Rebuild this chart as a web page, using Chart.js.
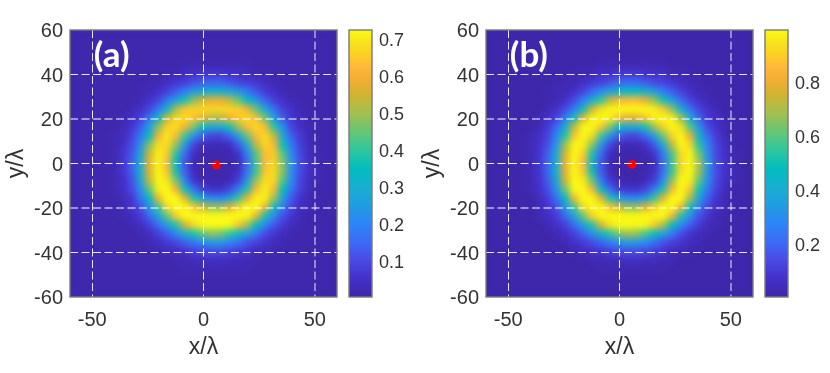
<!DOCTYPE html>
<html>
<head>
<meta charset="utf-8">
<script src="https://cdn.jsdelivr.net/npm/chart.js@4"></script>
<style>
html, body { margin: 0; padding: 0; background: #fff; }
canvas { position: absolute; top: 0; }
</style>
</head>
<body>
<canvas id="panelA" width="345" height="373" style="left:0"></canvas>
<canvas id="barA" width="71" height="373" style="left:345px"></canvas>
<canvas id="panelB" width="345" height="373" style="left:416px"></canvas>
<canvas id="barB" width="71" height="373" style="left:761px"></canvas>
<script>
const xTicks = [-50, 0, 50];
const yTicks = [-60, -40, -20, 0, 20, 40, 60];
const gridX = [-60,-56,-52,-48,-44,-40,-36,-32,-28,-24,-20,-16,-12,-8,-4,0,4,8,12,16,20,24,28,32,36,40,44,48,52,56,60];
const gridY = [60,56,52,48,44,40,36,32,28,24,20,16,12,8,4,0,-4,-8,-12,-16,-20,-24,-28,-32,-36,-40,-44,-48,-52,-56,-60];

// intensity, in hundredths, rows follow gridY
const heatA = [
[1,1,1,1,1,1,1,1,1,1,1,1,1,1,1,1,1,1,1,1,1,1,1,1,1,1,1,1,1,1,1],
[1,1,1,1,1,1,1,1,1,1,1,1,1,1,1,1,1,1,1,1,1,1,1,1,1,1,1,1,1,1,1],
[1,1,1,1,1,1,1,1,1,1,1,1,1,1,1,1,1,1,1,1,1,1,1,1,1,1,1,1,1,1,1],
[1,1,1,1,1,1,1,1,1,1,1,1,1,1,1,1,1,1,1,1,1,1,1,1,1,1,1,1,1,1,1],
[1,1,1,1,1,1,1,1,1,1,1,1,1,2,2,2,2,2,2,2,2,1,1,1,1,1,1,1,1,1,1],
[1,1,1,1,1,1,1,1,1,1,1,2,2,3,5,6,6,6,5,5,3,2,2,1,1,1,1,1,1,1,1],
[1,1,1,1,1,1,1,1,1,2,2,4,6,8,11,13,14,14,12,9,8,6,4,2,1,1,1,1,1,1,1],
[1,1,1,1,1,1,1,1,2,2,5,8,13,19,25,28,31,31,28,24,18,12,7,5,2,1,1,1,1,1,1],
[1,1,1,1,1,1,1,1,2,5,9,18,27,37,48,55,58,58,53,45,34,24,14,8,5,2,1,1,1,1,1],
[1,1,1,1,1,1,1,2,5,9,18,32,50,64,66,67,67,67,67,66,59,44,28,17,8,5,2,1,1,1,1],
[1,1,1,1,1,1,2,4,8,18,33,54,67,68,64,58,52,52,60,65,68,63,46,27,13,6,3,1,1,1,1],
[1,1,1,1,1,1,2,6,13,26,48,66,68,60,46,34,28,29,36,49,62,68,62,39,22,9,4,2,1,1,1],
[1,1,1,1,1,2,3,8,18,35,60,70,62,41,23,13,9,9,14,27,45,62,68,54,29,13,7,2,1,1,1],
[1,1,1,1,1,2,4,10,22,47,68,68,49,25,9,3,2,2,4,12,29,53,67,62,36,18,8,3,1,1,1],
[1,1,1,1,1,2,6,12,28,55,71,65,39,15,4,1,1,1,1,5,19,43,63,65,43,21,9,3,2,1,1],
[1,1,1,1,1,2,6,13,30,58,72,62,35,12,2,1,1,1,1,3,15,41,63,67,47,24,10,4,2,1,1],
[1,1,1,1,1,2,6,13,30,57,72,64,37,13,3,1,1,1,1,4,17,40,64,68,47,22,10,4,2,1,1],
[1,1,1,1,1,2,4,11,28,54,72,69,46,20,6,2,1,1,2,8,24,49,68,67,43,21,9,3,2,1,1],
[1,1,1,1,1,2,4,10,22,44,71,73,60,36,17,8,5,5,9,19,38,62,71,62,35,17,8,3,1,1,1],
[1,1,1,1,1,1,3,6,17,34,60,73,73,58,38,26,21,20,26,40,58,71,71,50,27,12,5,2,1,1,1],
[1,1,1,1,1,1,2,6,11,24,41,67,73,73,65,55,49,49,57,67,73,73,60,36,19,9,4,2,1,1,1],
[1,1,1,1,1,1,2,3,7,15,27,44,65,73,73,73,73,73,73,73,72,59,37,22,11,6,2,1,1,1,1],
[1,1,1,1,1,1,1,2,4,8,16,26,38,55,67,72,73,73,72,64,50,35,21,12,7,3,2,1,1,1,1],
[1,1,1,1,1,1,1,1,2,4,8,13,21,30,37,44,48,46,40,34,26,18,10,6,3,2,1,1,1,1,1],
[1,1,1,1,1,1,1,1,1,2,4,7,9,13,18,21,24,24,20,16,11,8,6,3,2,1,1,1,1,1,1],
[1,1,1,1,1,1,1,1,1,1,2,3,4,6,8,9,10,10,9,7,6,3,2,2,1,1,1,1,1,1,1],
[1,1,1,1,1,1,1,1,1,1,1,1,2,2,3,3,4,4,3,3,2,2,1,1,1,1,1,1,1,1,1],
[1,1,1,1,1,1,1,1,1,1,1,1,1,2,2,2,2,2,2,2,2,1,1,1,1,1,1,1,1,1,1],
[1,1,1,1,1,1,1,1,1,1,1,1,1,1,1,1,1,1,1,1,1,1,1,1,1,1,1,1,1,1,1],
[1,1,1,1,1,1,1,1,1,1,1,1,1,1,1,1,1,1,1,1,1,1,1,1,1,1,1,1,1,1,1],
[1,1,1,1,1,1,1,1,1,1,1,1,1,1,1,1,1,1,1,1,1,1,1,1,1,1,1,1,1,1,1]
];
const heatB = [
[1,1,1,1,1,1,1,1,1,1,1,1,1,1,1,1,1,1,1,1,1,1,1,1,1,1,1,1,1,1,1],
[1,1,1,1,1,1,1,1,1,1,1,1,1,1,1,1,1,1,1,1,1,1,1,1,1,1,1,1,1,1,1],
[1,1,1,1,1,1,1,1,1,1,1,1,1,1,1,1,1,1,1,1,1,1,1,1,1,1,1,1,1,1,1],
[1,1,1,1,1,1,1,1,1,1,1,1,1,1,1,1,1,1,1,1,1,1,1,1,1,1,1,1,1,1,1],
[1,1,1,1,1,1,1,1,1,1,1,1,1,3,3,3,3,3,3,3,3,1,1,1,1,1,1,1,1,1,1],
[1,1,1,1,1,1,1,1,1,1,2,3,3,6,7,9,9,9,7,7,6,3,3,2,1,1,1,1,1,1,1],
[1,1,1,1,1,1,1,1,2,3,3,6,9,12,15,20,21,21,18,14,12,9,6,3,2,1,1,1,1,1,1],
[1,1,1,1,1,1,1,2,3,3,7,12,20,29,37,42,46,46,42,35,26,18,11,7,3,2,1,1,1,1,1],
[1,1,1,1,1,1,1,1,3,7,14,26,41,55,73,83,86,86,79,67,51,35,21,12,7,3,1,1,1,1,1],
[1,1,1,1,1,1,1,3,7,14,26,47,74,94,98,99,99,99,99,97,88,65,42,24,12,7,3,1,1,1,1],
[1,1,1,1,1,1,3,6,12,26,50,79,98,99,97,86,79,79,88,98,99,97,68,41,20,9,6,1,1,1,1],
[1,1,1,1,1,1,3,9,20,41,73,98,99,88,64,46,38,40,50,68,90,99,94,59,33,14,7,3,1,1,1],
[1,1,1,1,1,3,6,12,28,53,88,99,92,57,32,18,13,13,20,36,62,90,99,81,44,21,10,3,1,1,1],
[1,1,1,1,1,3,7,15,33,68,99,97,66,33,13,4,3,3,7,17,40,73,99,92,53,26,12,6,1,1,1],
[1,1,1,1,1,3,8,18,40,77,99,90,52,21,5,2,1,1,2,8,25,58,92,98,63,31,13,6,3,1,1],
[1,1,1,1,1,3,8,19,42,81,99,86,46,17,3,1,1,1,1,4,21,56,92,99,69,34,14,7,3,1,1],
[1,1,1,1,1,3,8,19,42,80,99,88,50,18,4,1,1,1,2,6,22,55,94,99,68,32,14,7,3,1,1],
[1,1,1,1,1,3,7,17,39,75,99,96,62,26,9,3,1,1,3,10,31,66,99,97,61,30,13,6,3,1,1],
[1,1,1,1,1,3,7,14,32,62,99,99,84,48,22,10,8,8,12,25,51,84,99,88,50,24,11,4,1,1,1],
[1,1,1,1,1,1,4,10,23,46,83,99,99,79,52,35,29,28,35,55,79,99,99,69,37,18,8,3,1,1,1],
[1,1,1,1,1,1,3,8,15,33,57,92,99,99,88,75,67,67,78,91,99,99,83,50,26,12,7,3,1,1,1],
[1,1,1,1,1,1,3,6,10,21,37,61,90,99,99,99,99,99,99,99,99,83,52,31,15,8,3,1,1,1,1],
[1,1,1,1,1,1,1,3,7,11,22,36,53,76,94,99,99,99,98,89,70,48,30,18,10,4,3,1,1,1,1],
[1,1,1,1,1,1,1,1,3,7,11,19,31,43,53,63,68,66,57,48,36,25,14,8,4,3,1,1,1,1,1],
[1,1,1,1,1,1,1,1,1,3,7,10,13,19,25,31,33,33,29,22,15,11,8,4,3,1,1,1,1,1,1],
[1,1,1,1,1,1,1,1,1,1,3,4,7,8,11,13,14,14,13,10,8,4,3,3,1,1,1,1,1,1,1],
[1,1,1,1,1,1,1,1,1,1,1,1,3,3,4,4,6,6,4,4,3,3,1,1,1,1,1,1,1,1,1],
[1,1,1,1,1,1,1,1,1,1,1,1,1,2,2,2,2,2,2,2,2,1,1,1,1,1,1,1,1,1,1],
[1,1,1,1,1,1,1,1,1,1,1,1,1,1,1,1,1,1,1,1,1,1,1,1,1,1,1,1,1,1,1],
[1,1,1,1,1,1,1,1,1,1,1,1,1,1,1,1,1,1,1,1,1,1,1,1,1,1,1,1,1,1,1],
[1,1,1,1,1,1,1,1,1,1,1,1,1,1,1,1,1,1,1,1,1,1,1,1,1,1,1,1,1,1,1]
];
const dotA = [5.8, -0.7];
const dotB = [5.7, -0.4];
const rangeA = [0.003, 0.725];
const rangeB = [0.004, 0.993];
const barTicksA = [0.1, 0.2, 0.3, 0.4, 0.5, 0.6, 0.7];
const barTicksB = [0.2, 0.4, 0.6, 0.8];

const colorStops = [
  [0, '#3e26a8'], [0.07, '#4331cb'], [0.14, '#4a4ae6'], [0.2, '#3e68f5'],
  [0.275, '#2c85f8'], [0.35, '#1f9fdf'], [0.41, '#18aed0'], [0.48, '#02bdbd'],
  [0.55, '#2fc69e'], [0.62, '#66c675'], [0.69, '#a5bf4e'], [0.76, '#d4b332'],
  [0.82, '#f5ae35'], [0.86, '#fdb83a'], [0.9, '#fdcb29'], [0.95, '#f7e11c'], [1, '#f9fb15']
];
const FONT = '"Liberation Sans", Arial, sans-serif';
const TEXT = '#333333';

function hexRgb(h) {
  return [parseInt(h.slice(1, 3), 16), parseInt(h.slice(3, 5), 16), parseInt(h.slice(5, 7), 16)];
}
function colorAt(t) {
  t = Math.max(0, Math.min(1, t));
  for (let i = 1; i < colorStops.length; i++) {
    if (t <= colorStops[i][0]) {
      const a = colorStops[i - 1], b = colorStops[i];
      const k = (t - a[0]) / (b[0] - a[0]);
      const p = hexRgb(a[1]), q = hexRgb(b[1]);
      return 'rgb(' + p.map((c, n) => Math.round(c + (q[n] - c) * k)).join(',') + ')';
    }
  }
  return colorStops[colorStops.length - 1][1];
}

// grey box round the plot
const frame = {
  id: 'frame',
  afterDraw(chart) {
    const a = chart.chartArea, ctx = chart.ctx;
    ctx.save();
    ctx.strokeStyle = '#7a7a7a';
    ctx.lineWidth = 1.4;
    ctx.strokeRect(a.left, a.top, a.right - a.left, a.bottom - a.top);
    ctx.restore();
  }
};

// softens the cell edges of the cell dataset only, the dot stays sharp
const soften = {
  id: 'soften',
  afterDatasetDraw(chart, args) {
    if (args.index !== 1) return;
    const a = chart.chartArea, ctx = chart.ctx;
    const w = a.right - a.left, h = a.bottom - a.top;
    ctx.save();
    ctx.beginPath();
    ctx.rect(a.left, a.top, w, h);
    ctx.clip();
    ctx.filter = 'blur(3.3px)';
    ctx.drawImage(chart.canvas, a.left, a.top, w, h, a.left, a.top, w, h);
    ctx.restore();
  }
};

// tick labels sit a little lower in the original
const nudge = {
  id: 'nudge',
  beforeDraw(chart) {
    chart.scales.y.getLabelItems().forEach(it => { it.options.translation[1] += 1.5; });
  }
};

function makePanel(id, heat, range, dot, label) {
  const cells = [];
  const colors = [];
  heat.forEach((row, i) => row.forEach((v, j) => {
    cells.push({ x: gridX[j], y: gridY[i] });
    colors.push(colorAt((v / 100 - range[0]) / (range[1] - range[0])));
  }));
  const tag = {
    id: 'tag',
    afterDraw(chart) {
      const ctx = chart.ctx;
      ctx.save();
      ctx.fillStyle = '#ffffff';
      ctx.font = 'bold 35px Lato, sans-serif';
      ctx.textBaseline = 'middle';
      ctx.fillText(label, chart.scales.x.getPixelForValue(-49.3), chart.scales.y.getPixelForValue(48.5));
      ctx.restore();
    }
  };
  const lineColor = c => (Math.abs(c.tick.value) === 60 ? 'rgba(0,0,0,0)' : null);
  new Chart(id, {
    type: 'scatter',
    data: {
      datasets: [
        { data: [{ x: dot[0], y: dot[1] }], pointStyle: 'circle', pointRadius: 4.5, pointBackgroundColor: '#ff0000', pointBorderWidth: 0, order: 1 },
        { data: cells, pointStyle: 'rect', pointRadius: 7.6, pointBackgroundColor: colors, pointBorderWidth: 0, clip: 0, order: 2 }
      ]
    },
    options: {
      responsive: false,
      animation: false,
      events: [],
      layout: { padding: { top: 30, right: 8, left: 0, bottom: 0 } },
      plugins: { legend: { display: false }, tooltip: { enabled: false } },
      scales: {
        x: {
          type: 'linear', min: -60, max: 60,
          afterBuildTicks: s => { s.ticks = xTicks.map(v => ({ value: v })); },
          afterFit: s => { s.height = 76; },
          border: { display: false, dash: [8, 3.5] },
          grid: {
            z: 1, drawTicks: false,
            color: c => (c.tick.value === 50 ? 'rgba(255,255,255,0.45)' : 'rgba(255,255,255,0.9)'),
            lineWidth: c => (c.tick.value === 50 ? 2 : 1)
          },
          ticks: { color: TEXT, font: { family: FONT, size: 20 }, padding: 11, maxRotation: 0, autoSkip: false },
          title: { display: true, text: 'x/λ', color: TEXT, font: { family: FONT, size: 23 }, padding: { top: 0, bottom: 12 } }
        },
        y: {
          type: 'linear', min: -60, max: 60,
          afterBuildTicks: s => { s.ticks = yTicks.map(v => ({ value: v })); },
          afterFit: s => { s.width = 70; },
          border: { display: false, dash: [8, 3.5] },
          grid: {
            z: 1, drawTicks: false,
            color: c => lineColor(c) || (Math.abs(c.tick.value) === 20 ? 'rgba(255,255,255,0.5)' : 'rgba(255,255,255,0.9)'),
            lineWidth: c => (Math.abs(c.tick.value) === 20 ? 2 : 1)
          },
          ticks: { color: TEXT, font: { family: FONT, size: 20 }, padding: 7, autoSkip: false },
          title: { display: true, text: 'y/λ', color: TEXT, font: { family: FONT, size: 23 }, padding: { top: 3, bottom: 0 } }
        }
      }
    },
    plugins: [soften, nudge, frame, tag]
  });
}

function makeBar(id, range, barTicks) {
  new Chart(id, {
    type: 'bar',
    data: {
      labels: ['level'],
      datasets: [{
        data: [[range[0], range[1]]],
        barPercentage: 1,
        categoryPercentage: 1,
        backgroundColor: c => {
          const a = c.chart.chartArea;
          if (!a) return '#3e26a8';
          const g = c.chart.ctx.createLinearGradient(0, a.bottom, 0, a.top);
          colorStops.forEach(s => g.addColorStop(s[0], s[1]));
          return g;
        }
      }]
    },
    options: {
      responsive: false,
      animation: false,
      events: [],
      layout: { padding: { top: 30, right: 0, left: 4, bottom: 76 } },
      plugins: { legend: { display: false }, tooltip: { enabled: false } },
      scales: {
        x: { display: false },
        y: {
          position: 'right', min: range[0], max: range[1],
          afterBuildTicks: s => { s.ticks = barTicks.map(v => ({ value: v })); },
          afterFit: s => { s.width = 44; },
          border: { display: false },
          grid: { drawOnChartArea: false, tickLength: -3, tickColor: '#333333', tickWidth: 1 },
          ticks: { color: TEXT, font: { family: FONT, size: 18 }, padding: 10, autoSkip: false, callback: v => v.toFixed(1) }
        }
      }
    },
    plugins: [nudge, frame]
  });
}

makePanel('panelA', heatA, rangeA, dotA, '(a)');
makeBar('barA', rangeA, barTicksA);
makePanel('panelB', heatB, rangeB, dotB, '(b)');
makeBar('barB', rangeB, barTicksB);
</script>
</body>
</html>
